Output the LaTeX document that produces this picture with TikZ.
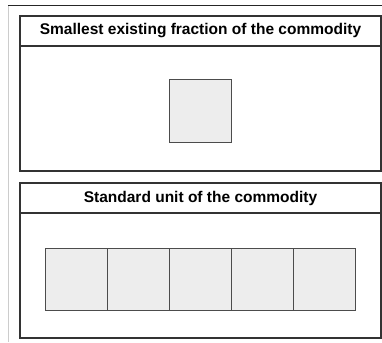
\documentclass[tikz,border=0pt]{standalone}
\usepackage{fontspec}
\setmainfont{Liberation Sans}
\usetikzlibrary{positioning}

\tikzset{
  head/.style={draw=black!80, line width=1.1pt, minimum width=361pt, minimum height=30pt, inner sep=0pt,
    font=\bfseries\fontsize{15.5}{18}\selectfont},
  body/.style={draw=black!80, line width=1.1pt, minimum width=361pt, minimum height=125pt, inner sep=0pt},
  cell/.style={draw=black!70, fill=black!7, line width=1pt, minimum size=62pt, inner sep=0pt}
}

\begin{document}
\begin{tikzpicture}[x=1pt, y=-1pt]
    \useasboundingbox (0,0) rectangle (382,342);

    % page frame
    \draw[line width=1pt, black!85] (8,5.5) -- (382,5.5);
    \draw[line width=1pt, black!20] (8,6) -- (8,342);

    % Smallest fraction
    \node[head] (fracHead) at (200.5,31) {Smallest existing fraction of the commodity};
    \node[body, below=-1.1pt of fracHead] (fracBody) {};
    \node[cell] (frac) at (200.5,111) {};

    % Standard unit
    \node[head] (unitHead) at (200.5,198) {Standard unit of the commodity};
    \node[body, below=-1.1pt of unitHead] (unitBody) {};
    \node[cell] (u1) at (76,279) {};
    \foreach \i [remember=\i as \j (initially 1)] in {2,...,5}
        \node[cell, right=-1pt of u\j] (u\i) {};
\end{tikzpicture}
\end{document}
